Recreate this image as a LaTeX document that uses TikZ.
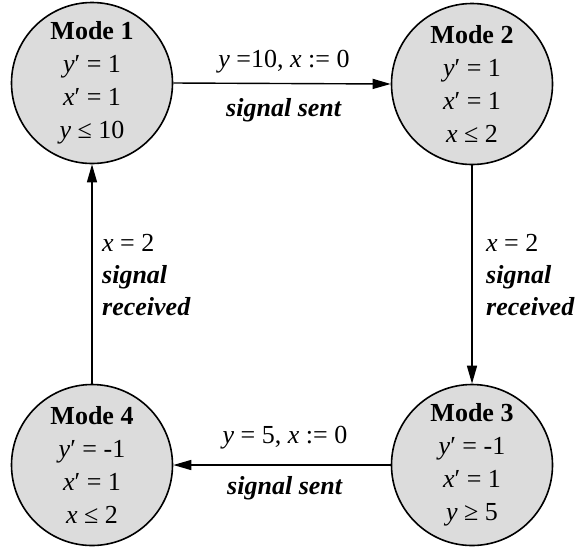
\documentclass[tikz,border=0pt]{standalone}
\usepackage{fontspec}
\setmainfont{Liberation Serif}
\usetikzlibrary{arrows.meta}
\definecolor{modefill}{RGB}{220,220,220}
\tikzset{
  mode/.style={circle, draw=black, line width=1.6pt, fill=modefill, minimum size=161pt, inner sep=0pt,
    align=center, font=\fontsize{26}{33}\selectfont},
  lbl/.style={font=\fontsize{26}{32}\selectfont, inner sep=0pt},
  arr/.style={line width=1.4pt, -{Triangle[length=18pt,width=10pt]}},
}
\begin{document}
\begin{tikzpicture}[x=1pt,y=-1pt]
\useasboundingbox (0,0) rectangle (588,550);
\node[mode] (m1) at (92,83) {\textbf{Mode 1}\\\textit{y}′ = 1\\\textit{x}′ = 1\\\textit{y} ≤ 10};
\node[mode] (m2) at (472,84) {\textbf{Mode 2}\\\textit{y}′ = 1\\\textit{x}′ = 1\\\textit{x} ≤ 2};
\node[mode] (m3) at (472,465) {\textbf{Mode 3}\\\textit{y}′ = -1\\\textit{x}′ = 1\\\textit{y} ≥ 5};
\node[mode] (m4) at (92,465) {\textbf{Mode 4}\\\textit{y}′ = -1\\\textit{x}′ =  1\\\textit{x} ≤  2};
\draw[arr] (m1.east) -- (m2.west);
\draw[arr] (m2.south) -- (m3.north);
\draw[arr] (m3.west) -- (m4.east);
\draw[arr] (m4.north) -- (m1.south);
\node[lbl] (l12a) at (284,62) {\textit{y} =10, \textit{x} := 0};
\node[lbl] (l12b) at (284,110) {\textbf{\textit{signal sent}}};
\node[lbl] (l34a) at (285,438) {\textit{y} = 5, \textit{x} := 0};
\node[lbl] (l34b) at (285,488) {\textbf{\textit{signal sent}}};
\node[lbl, align=left, anchor=west] (l41) at (102,275) {\textit{x} = 2\\\textbf{\textit{signal}}\\\textbf{\textit{received}}};
\node[lbl, align=left, anchor=west] (l23) at (486,275) {\textit{x} = 2\\\textbf{\textit{signal}}\\\textbf{\textit{received}}};
\end{tikzpicture}
\end{document}
